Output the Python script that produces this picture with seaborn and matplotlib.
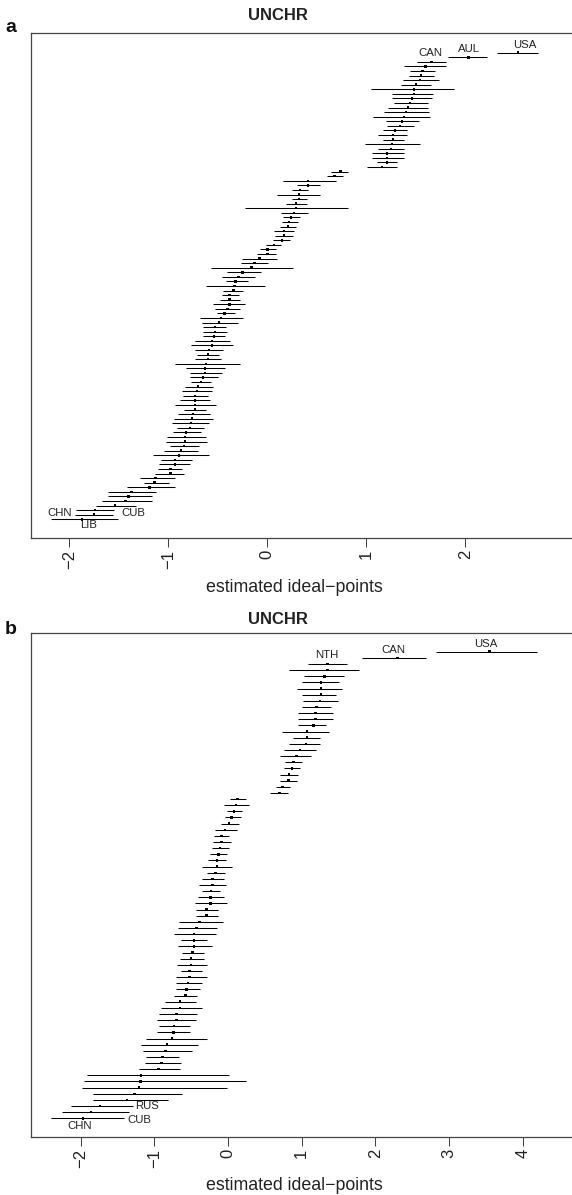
import numpy as np
import pandas as pd
import matplotlib
matplotlib.use("Agg")
import matplotlib.pyplot as plt
import seaborn as sns

# panel a: estimated ideal points, rows from top to bottom
a_mid = [2.53, 2.03, 1.66, 1.60, 1.57, 1.55, 1.54, 1.50, 1.48, 1.48,
         1.46, 1.44, 1.42, 1.40, 1.38, 1.36, 1.34, 1.29, 1.27, 1.27,
         1.26, 1.25, 1.21, 1.21, 1.21, 1.16, 0.74, 0.68, 0.41, 0.41,
         0.33, 0.32, 0.32, 0.29, 0.29, 0.27, 0.24, 0.22, 0.21, 0.17,
         0.17, 0.15, 0.07, 0.00, 0.00, -0.08, -0.13, -0.16, -0.25, -0.29,
         -0.32, -0.33, -0.34, -0.38, -0.38, -0.38, -0.40, -0.43, -0.47, -0.49,
         -0.53, -0.53, -0.54, -0.56, -0.56, -0.59, -0.60, -0.60, -0.62, -0.63,
         -0.63, -0.65, -0.67, -0.70, -0.71, -0.73, -0.73, -0.73, -0.73, -0.75,
         -0.76, -0.77, -0.78, -0.82, -0.83, -0.83, -0.84, -0.87, -0.89, -0.93,
         -0.93, -0.98, -0.98, -1.13, -1.14, -1.19, -1.37, -1.40, -1.43, -1.54,
         -1.74, -1.75, -1.87]
a_lo = [2.32, 1.83, 1.51, 1.38, 1.44, 1.43, 1.37, 1.35, 1.05, 1.26,
        1.26, 1.28, 1.22, 1.18, 1.07, 1.20, 1.21, 1.17, 1.12, 1.17,
        0.99, 1.12, 1.06, 1.06, 1.11, 1.01, 0.64, 0.60, 0.16, 0.30,
        0.25, 0.10, 0.25, 0.19, -0.23, 0.14, 0.16, 0.15, 0.13, 0.07,
        0.08, 0.06, -0.01, -0.07, -0.10, -0.26, -0.27, -0.57, -0.41, -0.46,
        -0.42, -0.62, -0.45, -0.46, -0.48, -0.55, -0.53, -0.51, -0.68, -0.66,
        -0.65, -0.65, -0.65, -0.73, -0.77, -0.73, -0.71, -0.73, -0.93, -0.82,
        -0.78, -0.78, -0.77, -0.83, -0.86, -0.85, -0.88, -0.93, -0.84, -0.90,
        -0.94, -0.96, -0.91, -0.95, -1.01, -1.02, -0.98, -1.04, -1.15, -1.07,
        -1.09, -1.10, -1.13, -1.29, -1.25, -1.42, -1.61, -1.61, -1.67, -1.73,
        -1.93, -1.94, -2.18]
a_hi = [2.73, 2.22, 1.80, 1.81, 1.69, 1.68, 1.73, 1.65, 1.89, 1.67,
        1.66, 1.62, 1.62, 1.63, 1.64, 1.53, 1.48, 1.41, 1.41, 1.38,
        1.54, 1.38, 1.38, 1.38, 1.31, 1.31, 0.82, 0.76, 0.69, 0.53,
        0.41, 0.53, 0.40, 0.40, 0.82, 0.41, 0.33, 0.31, 0.29, 0.27,
        0.26, 0.23, 0.14, 0.09, 0.09, 0.10, 0.01, 0.26, -0.06, -0.12,
        -0.20, -0.02, -0.25, -0.29, -0.28, -0.23, -0.28, -0.33, -0.25, -0.30,
        -0.42, -0.41, -0.43, -0.38, -0.35, -0.45, -0.49, -0.47, -0.28, -0.43,
        -0.46, -0.50, -0.57, -0.55, -0.56, -0.60, -0.58, -0.52, -0.62, -0.58,
        -0.55, -0.59, -0.64, -0.67, -0.62, -0.61, -0.69, -0.70, -0.59, -0.76,
        -0.78, -0.86, -0.84, -0.93, -0.99, -0.93, -1.12, -1.16, -1.16, -1.33,
        -1.55, -1.56, -1.51]
a_ticks = [-2, -1, 0, 1, 2]
a_names = ["USA", "AUL", "CAN", "CUB", "CHN", "LIB"]
a_name_rows = [0, 1, 2, 100, 101, 102]

# panel b
b_mid = [3.55, 2.30, 1.35, 1.35, 1.31, 1.26, 1.26, 1.26, 1.25, 1.20,
         1.19, 1.19, 1.16, 1.07, 1.07, 1.06, 0.98, 0.93, 0.89, 0.87,
         0.83, 0.82, 0.74, 0.70, 0.13, 0.11, 0.08, 0.05, 0.01, -0.04,
         -0.09, -0.09, -0.11, -0.13, -0.15, -0.15, -0.17, -0.21, -0.21, -0.23,
         -0.24, -0.24, -0.29, -0.29, -0.39, -0.43, -0.46, -0.46, -0.46, -0.48,
         -0.50, -0.50, -0.52, -0.52, -0.54, -0.56, -0.58, -0.65, -0.65, -0.70,
         -0.70, -0.73, -0.74, -0.76, -0.83, -0.85, -0.89, -0.90, -0.94, -1.18,
         -1.19, -1.21, -1.27, -1.37, -1.74, -1.86, -1.97]
b_lo = [2.82, 1.82, 1.09, 0.83, 1.03, 1.00, 0.94, 1.01, 1.02, 1.01,
        0.95, 0.95, 0.95, 0.73, 0.88, 0.83, 0.76, 0.71, 0.77, 0.76,
        0.70, 0.70, 0.65, 0.57, 0.03, -0.05, -0.01, -0.04, -0.10, -0.17,
        -0.19, -0.21, -0.22, -0.24, -0.27, -0.35, -0.28, -0.35, -0.39, -0.35,
        -0.41, -0.45, -0.43, -0.43, -0.67, -0.68, -0.73, -0.64, -0.68, -0.62,
        -0.65, -0.69, -0.64, -0.70, -0.70, -0.71, -0.73, -0.85, -0.91, -0.93,
        -0.96, -0.93, -0.96, -1.11, -1.18, -1.15, -1.11, -1.12, -1.21, -1.91,
        -1.95, -1.98, -1.83, -1.83, -2.13, -2.25, -2.40]
b_hi = [4.19, 2.69, 1.61, 1.78, 1.57, 1.51, 1.54, 1.47, 1.49, 1.40,
        1.43, 1.42, 1.33, 1.37, 1.25, 1.25, 1.19, 1.13, 1.01, 0.98,
        0.95, 0.93, 0.84, 0.82, 0.24, 0.28, 0.19, 0.17, 0.15, 0.12,
        0.02, 0.04, 0.01, -0.01, -0.03, 0.05, -0.04, -0.05, -0.03, -0.11,
        -0.05, -0.01, -0.13, -0.14, -0.07, -0.15, -0.16, -0.28, -0.22, -0.33,
        -0.33, -0.29, -0.35, -0.29, -0.35, -0.38, -0.42, -0.44, -0.35, -0.42,
        -0.44, -0.52, -0.52, -0.29, -0.41, -0.49, -0.66, -0.64, -0.65, 0.02,
        0.25, -0.02, -0.62, -0.82, -1.29, -1.34, -1.41]
b_ticks = [-2, -1, 0, 1, 2, 3, 4]
b_names = ["USA", "CAN", "NTH", "RUS", "CUB", "CHN"]
b_name_rows = [0, 1, 2, 74, 76, 76]

title = "UNCHR"
xlab = "estimated ideal\u2212points"

# label placement: anchor, ha, dx px, dy px
a_place = [("mid", "center", 7, 7.7), ("mid", "center", 1, 8.4), ("mid", "center", -1.5, 9),
           ("hi", "left", 7.8, -2.5), ("lo", "right", -3.5, 2), ("mid", "center", 6.5, -6)]
b_place = [("mid", "center", -3.7, 7.7), ("mid", "center", -4.4, 8), ("mid", "center", -1, 8.6),
           ("hi", "left", 2, 0), ("hi", "left", 3, -1.7), ("mid", "center", -2.8, -7.7)]

sns.set_style("ticks")
plt.rcParams["font.family"] = ["Liberation Sans", "DejaVu Sans"]

W, H = 572, 1195
fig = plt.figure(figsize=(W / 100, H / 100), dpi=100)


def panel(rect, mid, lo, hi, ticks, xlim, ylim_pad, names, rows, place):
    ax = fig.add_axes(rect)
    df = pd.DataFrame({"mid": mid, "lo": lo, "hi": hi})
    df["pos"] = -np.arange(len(df))
    ax.hlines(df["pos"], df["lo"], df["hi"], color="black", lw=0.75)
    sns.scatterplot(data=df, x="mid", y="pos", marker="s", s=3.2, color="black",
                    edgecolor="none", ax=ax, zorder=3, legend=False)
    for name, r, (anc, ha, dx, dy) in zip(names, rows, place):
        ax.annotate(name, (df.loc[r, anc], df.loc[r, "pos"]),
                    xytext=(dx * 0.72, dy * 0.72), textcoords="offset points",
                    ha=ha, va="center", fontsize=8.2, color="#222222")
    ax.set_xlim(*xlim)
    ax.set_ylim(-(len(df) - 1) - ylim_pad[1], ylim_pad[0])
    ax.set_xticks(ticks)
    ax.set_xticklabels([str(t).replace("-", "\u2212") for t in ticks], rotation=90,
                       fontsize=12, color="#222222")
    ax.set_yticks([])
    ax.tick_params(axis="x", length=6.5, width=0.75, color="#444444", pad=2)
    ax.set_ylabel("")
    ax.set_xlabel("")
    for sp in ax.spines.values():
        sp.set_color("#444444")
        sp.set_linewidth(0.9)
    return ax


pw = (575 - 31) / W
panel([31 / W, 1 - 538.3 / H, pw, (538.3 - 33.3) / H], a_mid, a_lo, a_hi, a_ticks,
      (-2.387, 3.108), (4.24, 4.15), a_names, a_name_rows, a_place)
panel([31 / W, 1 - 1137.3 / H, pw, (1137.3 - 633.3) / H], b_mid, b_lo, b_hi, b_ticks,
      (-2.673, 4.708), (3.0, 3.09), b_names, b_name_rows, b_place)

for ty, ly, xy in [(15, 28, 587), (620, 629, 1186)]:
    fig.text(278 / W, 1 - ty / H, title, ha="center", va="center", fontsize=12,
             fontweight="bold", color="#222222")
    fig.text(294 / W, 1 - xy / H, xlab, ha="center", va="center", fontsize=12.8,
             color="#222222")
fig.text(11 / W, 1 - 28 / H, "a", ha="center", va="center", fontsize=14,
         fontweight="bold", color="#111111")
fig.text(11 / W, 1 - 629 / H, "b", ha="center", va="center", fontsize=14,
         fontweight="bold", color="#111111")

fig.savefig("out.png", dpi=100)
